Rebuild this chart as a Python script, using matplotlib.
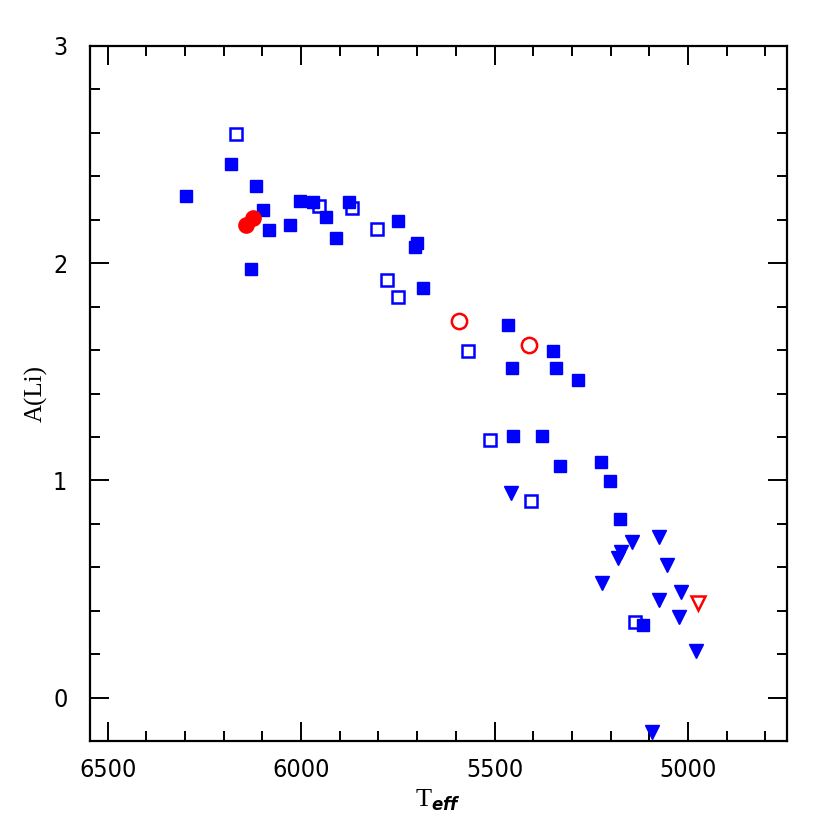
import matplotlib
matplotlib.use("Agg")
import matplotlib.pyplot as plt
from matplotlib.ticker import MultipleLocator

plt.rcParams['font.family'] = ['DejaVu Sans']
plt.rcParams['font.stretch'] = 'condensed'
plt.rcParams['mathtext.fontset'] = 'custom'
plt.rcParams['mathtext.it'] = 'DejaVu Sans:italic:bold'
plt.rcParams['mathtext.rm'] = 'Liberation Serif'

# --- data ---
filled_sq_teff = [6298, 6182, 6117, 6099, 6084, 6130, 6029, 6003, 5970, 5936, 5910, 5877,
                  5750, 5701, 5706, 5685, 5466, 5455, 5349, 5341, 5285, 5453, 5378, 5331,
                  5225, 5202, 5176, 5116]
filled_sq_ali = [2.31, 2.457, 2.356, 2.245, 2.153, 1.974, 2.176, 2.285, 2.28, 2.213, 2.117, 2.28,
                 2.195, 2.094, 2.075, 1.887, 1.716, 1.518, 1.597, 1.518, 1.463, 1.206, 1.206, 1.067,
                 1.086, 0.998, 0.824, 0.336]

open_sq_teff = [6169, 5954, 5869, 5804, 5778, 5750, 5569, 5512, 5406, 5137]
open_sq_ali = [2.595, 2.264, 2.255, 2.158, 1.923, 1.845, 1.597, 1.187, 0.906, 0.35]

red_dot_teff = [6143, 6125]
red_dot_ali = [2.176, 2.209]

red_ring_teff = [5592, 5411]
red_ring_ali = [1.735, 1.624]

tri_teff = [5458, 5075, 5145, 5173, 5181, 5054, 5222, 5018, 5075, 5022, 4979, 5093]
tri_ali = [0.943, 0.741, 0.718, 0.672, 0.644, 0.612, 0.529, 0.488, 0.451, 0.373, 0.216, -0.16]

red_tri_teff = [4974]
red_tri_ali = [0.437]

fig = plt.figure(figsize=(8.3, 8.3), dpi=100)
ax = fig.add_axes([0.108, 0.107, 0.84, 0.8376])

ax.plot(filled_sq_teff, filled_sq_ali, 's', color='blue', ms=9, mec='blue')
ax.plot(open_sq_teff, open_sq_ali, 's', mfc='none', mec='blue', ms=9, mew=1.8)
ax.plot(red_dot_teff, red_dot_ali, 'o', color='red', ms=11)
ax.plot(red_ring_teff, red_ring_ali, 'o', mfc='none', mec='red', ms=11, mew=1.8)
ax.plot(tri_teff, tri_ali, 'v', color='blue', ms=10.5)
ax.plot(red_tri_teff, red_tri_ali, 'v', mfc='none', mec='red', ms=10.5, mew=1.8)

ax.set_xlim(6547, 4744)
ax.set_ylim(-0.2, 3.0)

ax.xaxis.set_major_locator(MultipleLocator(500))
ax.xaxis.set_minor_locator(MultipleLocator(100))
ax.yaxis.set_major_locator(MultipleLocator(1))
ax.yaxis.set_minor_locator(MultipleLocator(0.2))
ax.tick_params(which='both', direction='in', top=True, right=True, width=1.4,
               labelsize=18)
ax.tick_params(which='major', length=14)
ax.tick_params(axis='x', pad=12)
ax.tick_params(axis='y', pad=16)
ax.tick_params(which='minor', length=7)
for sp in ax.spines.values():
    sp.set_linewidth(1.6)

ax.set_xlabel(r'$\mathrm{T}_{\it eff}$', fontsize=19, labelpad=4)
ax.set_ylabel('A(Li)', fontsize=18, family='Liberation Serif', stretch='normal', labelpad=4)

fig.savefig('out.png', dpi=100)
